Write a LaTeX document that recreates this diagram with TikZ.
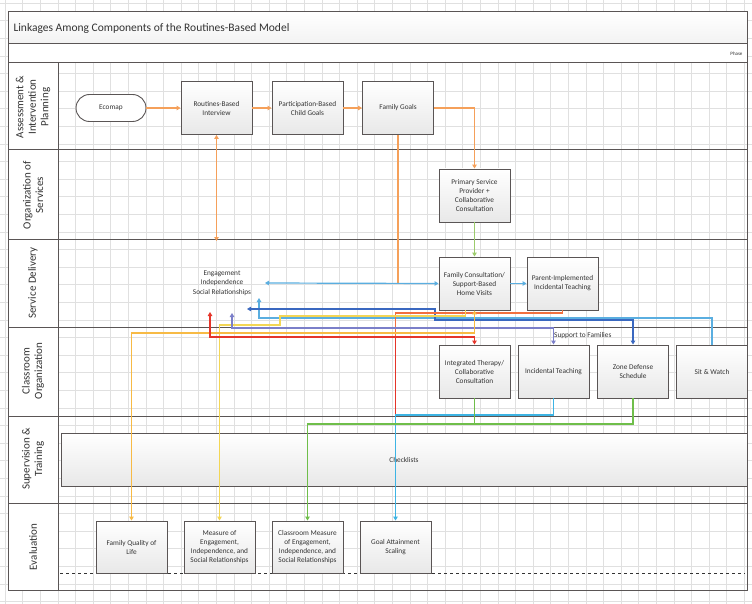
\documentclass[tikz,border=0pt]{standalone}
\usepackage{fontspec}
\setmainfont{Carlito}
\usetikzlibrary{arrows.meta}
\definecolor{gridc}{HTML}{E0E0E0}
\definecolor{framec}{HTML}{5A5555}
\definecolor{txtc}{HTML}{333333}
\definecolor{orangeL}{HTML}{F5A05A}
\definecolor{redc}{HTML}{E5352A}
\definecolor{redor}{HTML}{F2703F}
\definecolor{goldc}{HTML}{F7BA45}
\definecolor{yellowc}{HTML}{F3D655}
\definecolor{greenc}{HTML}{6FBE4A}
\definecolor{greenL}{HTML}{9CCB6C}
\definecolor{lblue}{HTML}{5AAEE0}
\definecolor{dblue}{HTML}{3A68C0}
\definecolor{purplec}{HTML}{7B7FC9}
\definecolor{cyanc}{HTML}{3DB4E4}
\begin{document}
\begin{tikzpicture}[x=1pt,y=-1pt,
  cbox/.style={draw=framec, line width=0.9pt, top color=white, bottom color=black!9,
    minimum width=71pt, minimum height=53pt, align=center, inner sep=1pt,
    font=\fontsize{7.3}{9}\selectfont, text=txtc},
  lane/.style={rotate=90, align=center, font=\fontsize{11}{12.5}\selectfont, text=txtc},
  conn/.style={line width=1.2pt, -{Triangle[length=4pt,width=4.5pt]}},
  conn2/.style={line width=1.2pt, {Triangle[length=4pt,width=4.5pt]}-{Triangle[length=4pt,width=4.5pt]}},
  plain/.style={line width=1.2pt}]
\useasboundingbox (0,0) rectangle (752,604);
\fill[white] (0,0) rectangle (752,604);
% grid
\foreach \i in {0,...,43} \draw[gridc, line width=0.5pt] ({5+\i*17.6},0) -- ({5+\i*17.6},604);
\foreach \j in {0,...,34} \draw[gridc, line width=0.5pt] (0,{3+\j*17.6}) -- (752,{3+\j*17.6});
% frame
\fill[top color=white, bottom color=black!5] (8,12) rectangle (747,44);
\fill[white] (8,44) rectangle (747,63);
\fill[white] (8,63) rectangle (58,590);
\draw[framec, line width=1pt] (8,12) rectangle (747,590);
\draw[framec, line width=1pt] (8,44) -- (747,44);
\draw[framec, line width=1pt] (8,63) -- (747,63);
\foreach \yy in {150,239,327,416,503} \draw[framec, line width=1pt] (8,\yy) -- (747,\yy);
\draw[framec, line width=1pt] (58,63) -- (58,590);
\node[anchor=west, font=\fontsize{11.5}{13}\selectfont, text=txtc] (title) at (10,28) {Linkages Among Components of the Routines-Based Model};
\node[anchor=east, font=\fontsize{5}{6}\selectfont, text=txtc] (phase) at (746,54) {Phase};
% lane labels
\node[lane] (l1) at (33,107) {Assessment \&\\Intervention\\Planning};
\node[lane] (l2) at (33,195) {Organization of\\Services};
\node[lane] (l3) at (33,283) {Service Delivery};
\node[lane] (l4) at (33,371) {Classroom\\Organization};
\node[lane] (l5) at (33,459) {Supervision \&\\Training};
\node[lane] (l6) at (33,547) {Evaluation};
% dashed evaluation line
\draw[dashed, line width=1pt, black!80] (60,573) -- (745,573);
% nodes
\node[draw=framec, line width=0.9pt, fill=white, rounded corners=13.5pt, minimum width=70pt, minimum height=27pt, font=\fontsize{7.3}{9}\selectfont, text=txtc] (eco) at (111,108) {Ecomap};
\node[cbox] (rbi) at (216.5,108) {Routines-Based\\Interview};
\node[cbox] (pbcg) at (307.5,108) {Participation-Based\\Child Goals};
\node[cbox] (fg) at (398,108) {Family Goals};
\node[cbox] (psp) at (474.5,195.5) {Primary Service\\Provider +\\Collaborative\\Consultation};
\node[cbox] (fc) at (474.5,283.5) {Family Consultation/\\Support-Based\\Home Visits};
\node[cbox] (pi) at (562.5,283.5) {Parent-Implemented\\Incidental Teaching};
\node[cbox] (it) at (474.5,371.5) {Integrated Therapy/\\Collaborative\\Consultation};
\node[cbox] (inc) at (553.5,371.5) {Incidental Teaching};
\node[cbox] (zd) at (633,371.5) {Zone Defense\\Schedule};
\node[cbox] (sw) at (712,371.5) {Sit \& Watch};
\node[cbox, minimum width=686pt] (chk) at (404,459.5) {Checklists};
\node[cbox, minimum height=52pt] (fql) at (131.5,547) {Family Quality of\\Life};
\node[cbox, minimum height=52pt] (mes) at (219.5,547) {Measure of\\Engagement,\\Independence, and\\Social Relationships};
\node[cbox, minimum height=52pt] (cme) at (307.5,547) {Classroom Measure\\of Engagement,\\Independence, and\\Social Relationships};
\node[cbox, minimum height=52pt] (gas) at (395.5,547) {Goal Attainment\\Scaling};
\node[align=center, font=\fontsize{7.3}{9.5}\selectfont, text=txtc] (esr) at (222,283) {Engagement\\Independence\\Social Relationships};
\node[anchor=west, font=\fontsize{7.3}{9}\selectfont, text=txtc, inner sep=1pt] (stf) at (553,336) {Support to Families};
% coordinates
\coordinate (e1) at (216.5,241);
\coordinate (f1) at (398,283);
\coordinate (b1) at (265,283);
\coordinate (db1) at (247,309);
\coordinate (lb1) at (259,298);
\coordinate (p1) at (232,313);
\coordinate (r1) at (210,312);
% assessment row
\draw[conn, orangeL] (eco) -- (rbi);
\draw[conn, orangeL] (rbi) -- (pbcg);
\draw[conn, orangeL] (pbcg) -- (fg);
\draw[conn, orangeL] (fg.east) -| (psp.north);
\draw[conn2, orangeL] (rbi.south) -- (e1);
\draw[plain, orangeL] (fg.south) -- (f1);
\draw[conn, greenL] (psp) -- (fc);
% service delivery
\draw[conn2, lblue] (b1) -- (fc.west);
\draw[conn, lblue] (fc) -- (pi);
% bundle
\draw[conn, lblue] (sw.north) -- (sw.north |- 0,318) -- (259,318) -- (lb1);
\draw[conn2, dblue] (db1) -- (435,309) -- (435,320) -- (zd.north |- 0,320) -- (zd.north);
\draw[plain, redor] (pi.south) -- (pi.south |- 0,313) -- (gas.north |- 0,313) -- (gas.north |- 0,337);
\draw[plain, redc] (gas.north |- 0,337) -- (gas.north |- 0,415);
\draw[conn, yellowc] ([xshift=-9pt]fc.south) -- ([xshift=-9pt]fc.south |- 0,316) -- (280,316) -- (280,325) -- (mes.north |- 0,325) -- (mes.north);
\draw[conn2, purplec] (p1) -- (p1 |- 0,328) -- (inc.north |- 0,328) -- (inc.north);
\draw[conn2, goldc] (fc.south) -- (fc.south |- 0,333) -- (fql.north |- 0,333) -- (fql.north);
\draw[conn2, redc] (r1) -- (r1 |- 0,337) -- (it.north |- 0,337) -- (it.north);
% classroom to evaluation
\draw[conn, cyanc] (inc.south) -- (inc.south |- 0,415) -- (gas.north |- 0,415) -- (gas.north);
\draw[plain, greenc] (it.south) -- (it.south |- 0,424);
\draw[conn, greenc] (zd.south) -- (zd.south |- 0,424) -- (cme.north |- 0,424) -- (cme.north);
\end{tikzpicture}
\end{document}
